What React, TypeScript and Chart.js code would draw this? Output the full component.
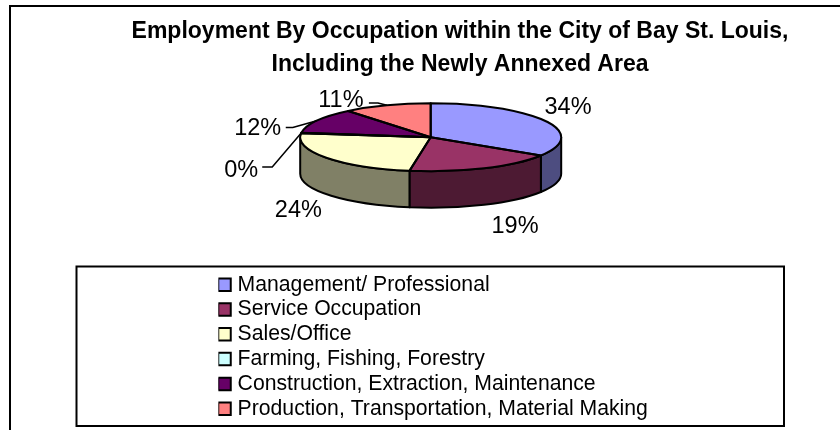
import React, { useEffect, useRef } from "react";
import { Chart, registerables } from "chart.js";

Chart.register(...registerables);

const categories = [
  "Management/ Professional",
  "Service Occupation",
  "Sales/Office",
  "Farming, Fishing, Forestry",
  "Construction, Extraction, Maintenance",
  "Production, Transportation, Material Making",
];
const shares = [34, 18.6, 24.3, 0.2, 12, 10.9];
const sliceColors = ["#9999FF", "#993366", "#FFFFCC", "#CCFFFF", "#660066", "#FF8080"];
const titleLines = [
  "Employment By Occupation within the City of Bay St. Louis,",
  "Including the Newly Annexed Area",
];
// label centre relative to the slice's mid-rim point
const labelOffsets: number[][] = [[23, -13.5], [31, 58.5], [-28, 52.5], [-60, 37.5], [-59, 7.5], [-46, -4.5]];
// leader line [elbow, end] relative to the mid-rim point
const leaderOffsets: (number[][] | null)[] = [
  null,
  null,
  null,
  [[-29, 34], [-39, 34]],
  [[-24, 6.7], [-31, 6.7]],
  [[-9, -2.3], [-18, -2.3]],
];

const FONT = "'Liberation Sans', Arial, sans-serif";
const CX = 430.7;
const CY = 137.3;
const RX = 130.5;
const RY = 34;
const DEPTH = 36.5;

function shade(hex: string) {
  const n = parseInt(hex.slice(1), 16);
  const c = (v: number) => Math.round(v * 0.5);
  return `rgb(${c((n >> 16) & 255)},${c((n >> 8) & 255)},${c(n & 255)})`;
}

const pie3d = {
  id: "pie3d",
  beforeDraw(chart: any) {
    const { ctx } = chart;
    ctx.save();
    ctx.fillStyle = "#fff";
    ctx.fillRect(0, 0, chart.width, chart.height);
    ctx.strokeStyle = "#000";
    ctx.lineWidth = 2;
    ctx.beginPath();
    ctx.moveTo(10, chart.height);
    ctx.lineTo(10, 6);
    ctx.lineTo(chart.width, 6);
    ctx.stroke();
    ctx.strokeRect(76.5, 266.5, 707.5, 159.5);
    ctx.restore();
  },
  afterLayout(chart: any) {
    const lg = chart.legend;
    lg.left = 218.4;
    lg.right = 783;
    lg.top = 270.5;
    lg.bottom = 425;
  },
  beforeDatasetsDraw(chart: any) {
    const { ctx } = chart;
    const arcs = chart.getDatasetMeta(0).data;
    ctx.save();
    ctx.strokeStyle = "#000";
    ctx.lineWidth = 2;
    ctx.lineJoin = "round";
    arcs.forEach((arc: any, i: number) => {
      const a = Math.max(arc.startAngle, 0);
      const b = Math.min(arc.endAngle, Math.PI);
      if (b <= a) return;
      ctx.beginPath();
      ctx.ellipse(CX, CY, RX, RY, 0, a, b);
      ctx.ellipse(CX, CY + DEPTH, RX, RY, 0, b, a, true);
      ctx.closePath();
      ctx.fillStyle = shade(sliceColors[i]);
      ctx.fill();
      ctx.stroke();
    });
    ctx.restore();
    const first = arcs[0];
    ctx.save();
    ctx.translate(CX, CY);
    ctx.scale(1, RY / RX);
    ctx.translate(-first.x, -first.y);
  },
  afterDatasetsDraw(chart: any) {
    const { ctx } = chart;
    ctx.restore();
    const arcs = chart.getDatasetMeta(0).data;
    const total = shares.reduce((s, v) => s + v, 0);
    ctx.save();
    ctx.strokeStyle = "#000";
    ctx.lineWidth = 2;
    ctx.lineJoin = "round";
    arcs.forEach((arc: any) => {
      if (arc.endAngle - arc.startAngle <= 0) return;
      ctx.beginPath();
      ctx.moveTo(CX, CY);
      ctx.ellipse(CX, CY, RX, RY, 0, arc.startAngle, arc.endAngle);
      ctx.closePath();
      ctx.stroke();
    });
    ctx.font = `23.5px ${FONT}`;
    ctx.fillStyle = "#000";
    ctx.textAlign = "center";
    ctx.textBaseline = "middle";
    ctx.lineWidth = 1.5;
    arcs.forEach((arc: any, i: number) => {
      const mid = (arc.startAngle + arc.endAngle) / 2;
      const ax = CX + RX * Math.cos(mid);
      const ay = CY + RY * Math.sin(mid);
      const leader = leaderOffsets[i];
      if (leader) {
        ctx.beginPath();
        ctx.moveTo(ax, ay);
        leader.forEach(([dx, dy]) => ctx.lineTo(ax + dx, ay + dy));
        ctx.stroke();
      }
      const [ox, oy] = labelOffsets[i];
      ctx.fillText(`${Math.round((shares[i] / total) * 100)}%`, ax + ox, ay + oy);
    });
    ctx.restore();
  },
};

export default function App() {
  const ref = useRef<HTMLCanvasElement>(null);
  useEffect(() => {
    const chart = new Chart(ref.current as HTMLCanvasElement, {
      type: "pie",
      data: {
        labels: categories,
        datasets: [
          {
            data: shares,
            backgroundColor: sliceColors,
            borderWidth: 0,
            radius: RX,
            clip: false,
          } as any,
        ],
      },
      options: {
        responsive: false,
        animation: false,
        events: [],
        layout: { padding: { left: 80 } },
        plugins: {
          tooltip: { enabled: false },
          title: {
            display: true,
            position: "top",
            text: titleLines,
            color: "#000",
            font: { family: FONT, size: 23, weight: "bold", lineHeight: 1.46 },
            padding: { top: 14.5, bottom: 6 },
          },
          legend: {
            display: true,
            position: "right",
            align: "start",
            labels: {
              usePointStyle: true,
              pointStyle: "rect",
              boxWidth: 5,
              boxHeight: 12.5,
              padding: 3.6,
              color: "#000",
              font: { family: FONT, size: 21.2 },
              generateLabels(c: any) {
                const base = Chart.overrides.pie.plugins.legend.labels.generateLabels(c);
                return base.map((it: any) => ({ ...it, strokeStyle: "#000", lineWidth: 2 }));
              },
            },
          },
        },
      },
      plugins: [pie3d],
    } as any);
    return () => chart.destroy();
  }, []);
  return (
    <div style={{ position: "absolute", left: 0, top: 0, width: 840, height: 430 }}>
      <canvas ref={ref} width={840} height={430} style={{ display: "block" }} />
    </div>
  );
}
